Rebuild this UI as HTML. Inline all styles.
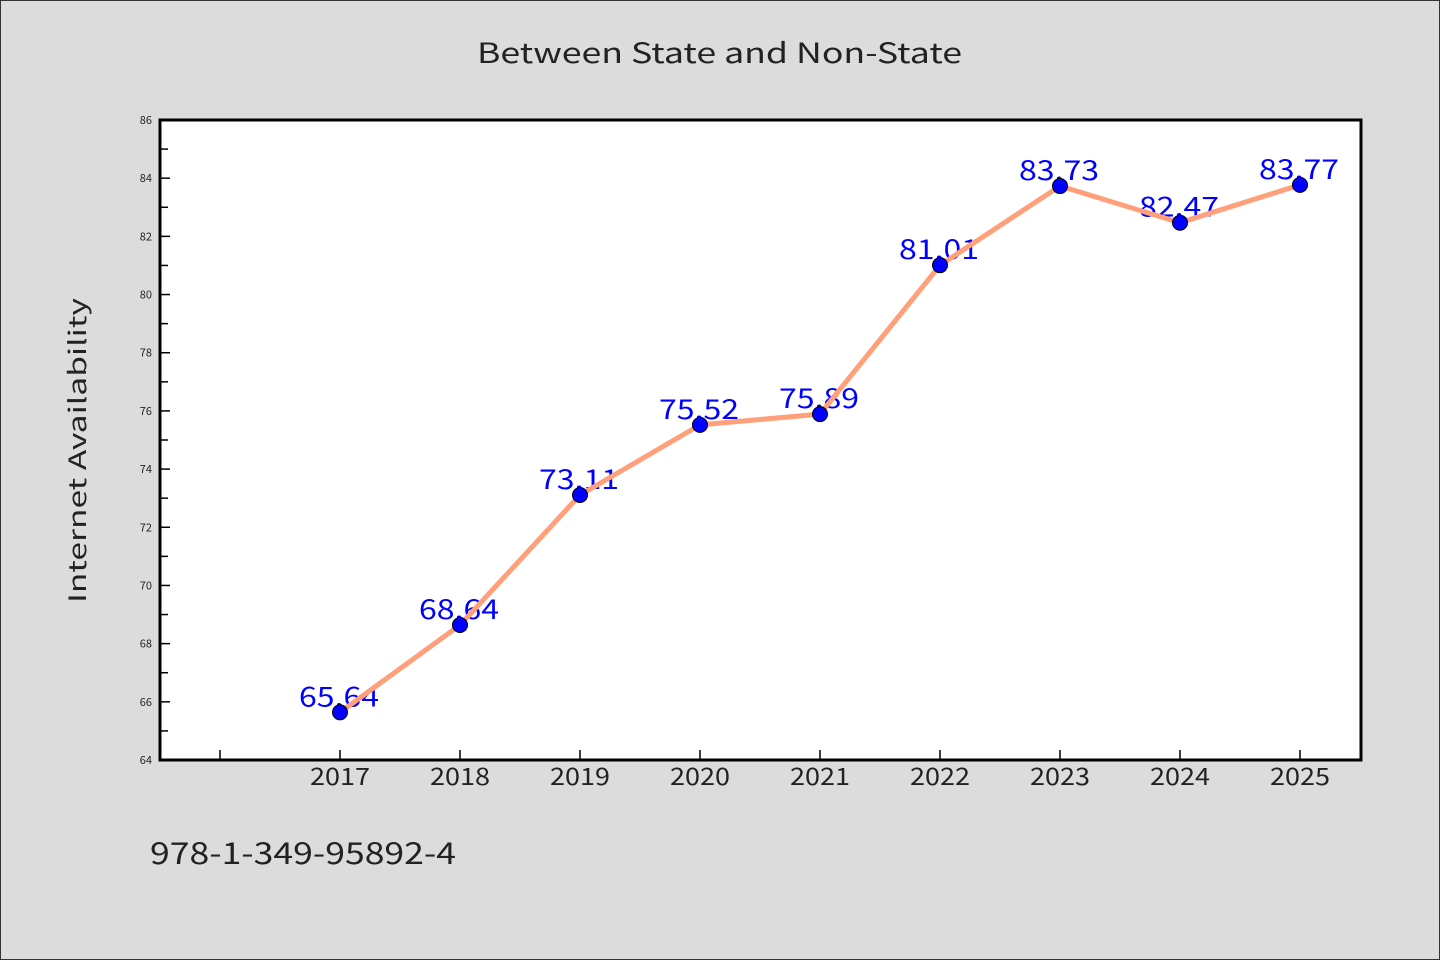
<!DOCTYPE html>
<html><head><meta charset="utf-8"><style>
html,body{margin:0;padding:0;background:#dcdcdc;}
svg{display:block;font-family:"WenQuanYi Zen Hei","Noto Sans CJK SC","DejaVu Sans",sans-serif;}
</style></head><body>
<svg width="1440" height="960" viewBox="0 0 1440 960">
<rect x="0.5" y="0.5" width="1439" height="959" fill="#dcdcdc" stroke="#333"/>
<text x="477" y="63" font-size="28" fill="#222" textLength="485" lengthAdjust="spacingAndGlyphs">Between State and Non-State</text>
<text transform="translate(86,603) rotate(-90)" font-size="24" fill="#222" textLength="305" lengthAdjust="spacingAndGlyphs">Internet Availability</text>
<text x="150" y="864" font-size="30" fill="#222" textLength="306" lengthAdjust="spacingAndGlyphs">978-1-349-95892-4</text>
<rect x="160" y="120" width="1201" height="640" fill="#fff"/>
<g id="ticks"></g>
<g id="labels"></g>
<g id="series"></g>
<rect x="160" y="120" width="1201" height="640" fill="none" stroke="#000" stroke-width="3"/>
</svg>
<script>
const years = ["2017","2018","2019","2020","2021","2022","2023","2024","2025"];
const values = [65.64,68.64,73.11,75.52,75.89,81.01,83.73,82.47,83.77];
const yTicks = [64,66,68,70,72,74,76,78,80,82,84,86];
const NS="http://www.w3.org/2000/svg";
const L=160,R=1361,T=120,B=760,yMin=64,yMax=86;
function y(v){return B-(v-yMin)/(yMax-yMin)*(B-T);}
function x(i){return 340+i*120;}
function mk(tag,attrs,parent){const e=document.createElementNS(NS,tag);for(const k in attrs)e.setAttribute(k,attrs[k]);parent.appendChild(e);return e;}
const tg=document.getElementById('ticks'),lg=document.getElementById('labels'),sg=document.getElementById('series');
yTicks.forEach(v=>{
 const t=mk('line',{x1:L,x2:L+10,y1:y(v),y2:y(v),stroke:'#000','stroke-width':1.5},tg);
 
 
 const tx=mk('text',{x:152,y:y(v)+4,'text-anchor':'end','font-size':11,fill:'#222'},tg);
 tx.textContent=v;
 
 
 if(v<yMax){const m=mk('line',{x1:L,x2:L+8,y1:y(v+1),y2:y(v+1),stroke:'#000','stroke-width':1.5},tg);
 
 }
});
for(let i=-1;i<years.length;i++){
 const t=mk('line',{x1:x(i),x2:x(i),y1:B,y2:B-10,stroke:'#000','stroke-width':1.5},tg);
 
 
}
years.forEach((yr,i)=>{
 const tx=mk('text',{x:x(i)-30,y:785,'font-size':24,fill:'#222',textLength:60,lengthAdjust:'spacingAndGlyphs'},tg);
 tx.textContent=yr;
 
 
 const lb=mk('text',{x:x(i)-41,y:y(values[i])-6,'font-size':27,fill:'#0000ff',textLength:80,lengthAdjust:'spacingAndGlyphs'},lg);
 lb.textContent=values[i].toFixed(2).replace('.',',');
 
 
});
const pl=mk('polyline',{points:values.map((v,i)=>x(i)+','+y(v)).join(' '),fill:'none',stroke:'#ffa07a','stroke-width':5,'stroke-linejoin':'round'},sg);


values.forEach((v,i)=>{
 const c=mk('circle',{cx:x(i),cy:y(v),r:7.5,fill:'#0000ff',stroke:'#000','stroke-width':1},sg);
 
 
});
</script>
</body></html>
